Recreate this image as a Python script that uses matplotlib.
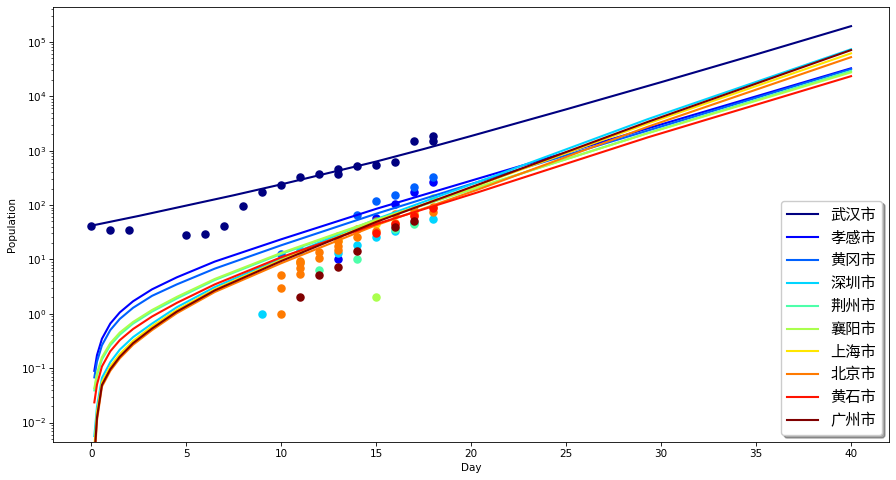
import numpy as np
import matplotlib
matplotlib.use("Agg")
import matplotlib.pyplot as plt

cities = ["武汉市", "孝感市", "黄冈市", "深圳市", "荆州市",
          "襄阳市", "上海市", "北京市", "黄石市", "广州市"]

obs_days = [
    [0, 1, 2, 5, 6, 7, 8, 9, 10, 11, 12, 13, 13, 14, 15, 16, 17, 18, 18],
    [13, 15, 16, 17, 18],
    [10, 14, 15, 16, 17, 18],
    [9, 11, 13, 14, 15, 16, 17, 18],
    [12, 14, 16, 17],
    [15, 18],
    [11, 13, 15, 17],
    [10, 10, 10, 11, 11, 11, 11, 12, 12, 13, 13, 13, 13, 14, 14, 15, 15, 16, 16, 17, 17, 18, 18],
    [15, 16, 17, 18],
    [11, 12, 13, 14, 16, 17],
]
obs_vals = [
    [41, 35, 35, 28, 29, 42, 96, 175, 232, 330, 380, 460, 380, 520, 545, 610, 1500, 1860, 1500],
    [10, 58, 103, 175, 270],
    [12.6, 66, 120, 151, 215, 331],
    [1, 15, 13, 18.4, 25.5, 34, 46, 55],
    [6.3, 10, 36, 44],
    [2, 135],
    [9, 22, 45, 70],
    [1, 3, 5.2, 5.5, 7, 8.5, 9.5, 10.5, 13.5, 15, 18, 22, 27, 26, 36, 33, 50, 46, 68, 65, 80, 75, 92],
    [31, 45, 62, 87],
    [2, 5.1, 7.3, 14.2, 40, 51],
]

# fitted curves, log10(population)
wuhan_t = [0, 2.5, 5, 7.5, 10, 12.5, 15, 17.5, 20, 25, 30, 35, 40]
wuhan_fit = [1.62, 1.80, 1.99, 2.18, 2.38, 2.59, 2.80, 3.03, 3.27, 3.76, 4.26, 4.77, 5.29]

fit_t = [0.16, 0.3, 0.56, 1, 1.5, 2.2, 3.2, 4.5, 6.5, 10, 15, 20.4, 29.3, 40]
fit_log = [
    [-1.05, -0.76, -0.46, -0.18, 0.025, 0.23, 0.45, 0.67, 0.96, 1.37, 1.93, 2.49, 3.41, 4.515],
    [-1.17, -0.88, -0.58, -0.30, -0.095, 0.11, 0.33, 0.54, 0.83, 1.26, 1.84, 2.43, 3.37, 4.50],
    [-2.25, -1.71, -1.18, -0.89, -0.66, -0.43, -0.18, 0.12, 0.49, 1.02, 1.74, 2.43, 3.58, 4.865],
    [-1.41, -1.13, -0.84, -0.58, -0.385, -0.18, 0.04, 0.28, 0.62, 1.10, 1.72, 2.33, 3.325, 4.465],
    [-1.37, -1.09, -0.80, -0.54, -0.345, -0.15, 0.07, 0.31, 0.64, 1.12, 1.73, 2.33, 3.32, 4.44],
    [-2.45, -1.81, -1.26, -0.97, -0.74, -0.50, -0.23, 0.07, 0.45, 0.99, 1.70, 2.37, 3.50, 4.79],
    [-2.75, -1.96, -1.34, -1.05, -0.82, -0.57, -0.30, 0.01, 0.40, 0.93, 1.63, 2.29, 3.44, 4.72],
    [-1.63, -1.30, -0.97, -0.69, -0.485, -0.28, -0.05, 0.20, 0.54, 1.04, 1.65, 2.24, 3.245, 4.37],
    [-2.65, -1.91, -1.31, -1.02, -0.79, -0.54, -0.27, 0.04, 0.43, 0.97, 1.69, 2.38, 3.53, 4.85],
]

colors = plt.cm.jet(np.linspace(0, 1, len(cities)))

fig = plt.figure(figsize=(8.96, 4.8), dpi=100)
ax = fig.add_axes([0.0595, 0.079, 0.9327, 0.9058])

for i, name in enumerate(cities):
    ax.scatter(obs_days[i], obs_vals[i], color=colors[i], s=26)
    if i == 0:
        ax.plot(wuhan_t, 10 ** np.array(wuhan_fit), color=colors[i], lw=1.5, label=name)
    else:
        ax.plot(fit_t, 10 ** np.array(fit_log[i - 1]), color=colors[i], lw=1.5, label=name)

ax.set_yscale('log')
ax.set_xlim(-2, 42)
ax.set_ylim(10 ** -2.36, 10 ** 5.637)
ax.set_xlabel("Day", fontsize=7.5, labelpad=3)
ax.set_ylabel("Population", fontsize=7.5, labelpad=3)
ax.tick_params(which='major', labelsize=7.5, length=2.6, width=0.6, pad=2.6)
ax.tick_params(which='minor', length=1.5, width=0.45)
for s in ax.spines.values():
    s.set_linewidth(0.6)

ax.legend(loc='lower right', shadow=True, fancybox=True, labelspacing=0.38,
          borderaxespad=0.45,
          prop={'family': ['Noto Sans CJK SC', 'DejaVu Sans'], 'size': 11})

fig.savefig("out.png", dpi=100)
